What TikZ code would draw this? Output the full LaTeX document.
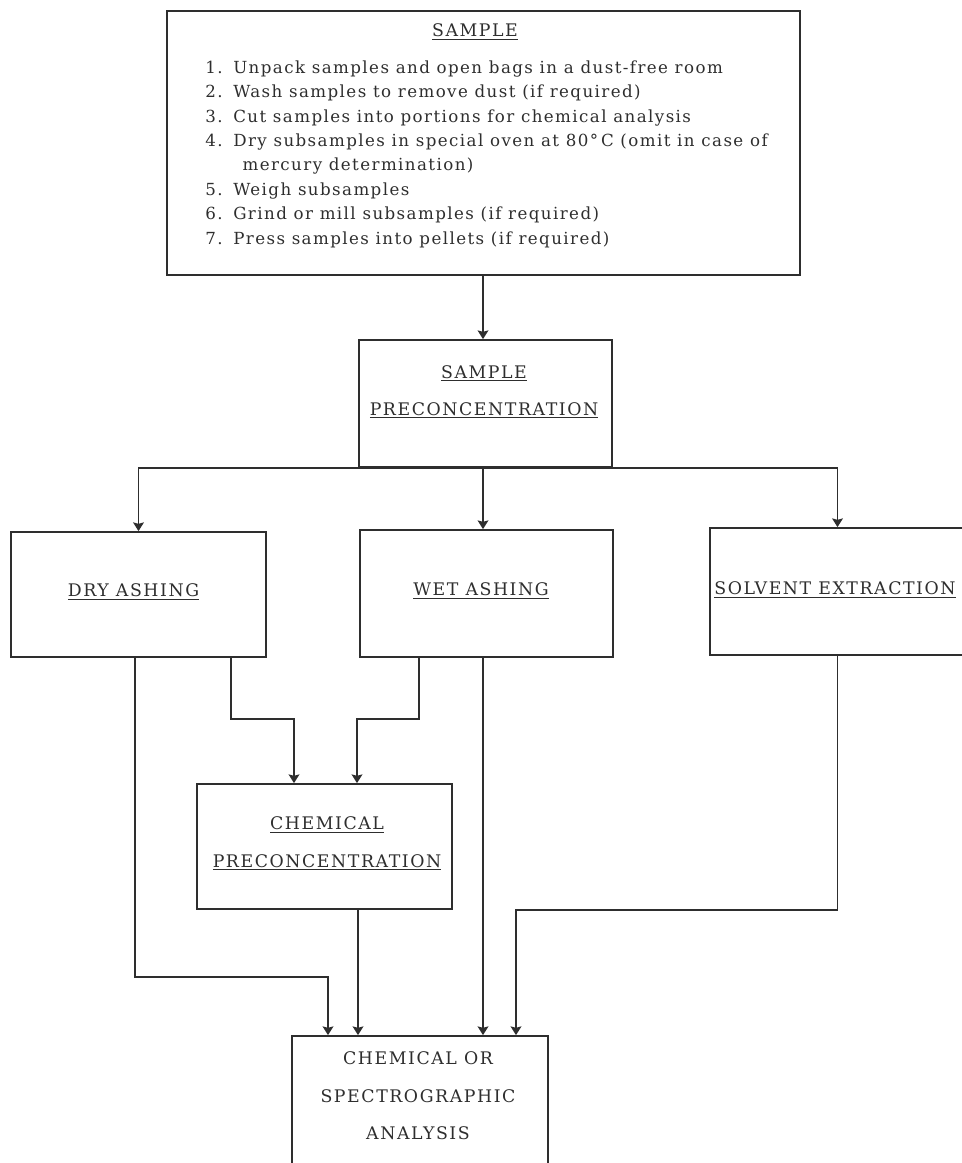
\documentclass[tikz,border=0pt]{standalone}
\usepackage{fontspec}
\setmainfont{DejaVu Serif}
\newfontfamily\capsfont[LetterSpace=9]{DejaVu Serif}
\newfontfamily\listfont[LetterSpace=8.5]{DejaVu Serif}
\usetikzlibrary{arrows.meta}
\definecolor{ink}{HTML}{2E2E2E}

\begin{document}
\begin{tikzpicture}[x=0.75pt,y=-0.75pt,
    box/.style={draw=ink,line width=1.3pt,inner sep=0pt},
    caption/.style={text=ink,align=center,inner sep=0pt,font=\capsfont\fontsize{13}{28}\selectfont},
    flow/.style={draw=ink,line width=1.3pt,-{Stealth[length=6.5pt,width=8pt,inset=1pt]}}]
    \useasboundingbox (0,0) rectangle (962,1163);
    \clip (0,0) rectangle (962,1163);

    % boxes
    \node[box,minimum width=474.75pt,minimum height=198pt] (sample) at (483.5,143) {};
    \node[box,minimum width=189.75pt,minimum height=95.25pt] (prec) at (485.5,403.5) {};
    \node[box,minimum width=191.25pt,minimum height=93.75pt] (dry) at (138.5,594.5) {};
    \node[box,minimum width=189.75pt,minimum height=95.25pt] (wet) at (486.5,593.5) {};
    \node[box,minimum width=191.25pt,minimum height=95.25pt] (solv) at (837.5,591.5) {};
    \node[box,minimum width=191.25pt,minimum height=93.75pt] (chem) at (324.5,846.5) {};
    \node[box,minimum width=192pt,minimum height=99pt] (final) at (420,1102) {};

    % texts
    \node[caption] (sampletitle) at (475,32) {\underline{SAMPLE}};
    \node[anchor=north west,inner sep=0pt,text=ink,font=\listfont\fontsize{12.5}{18.3}\selectfont] (steps) at (205,56) {%
      \begin{tabular}{@{}r@{\hspace{8pt}}l@{}}
        1. & Unpack samples and open bags in a dust-free room\\
        2. & Wash samples to remove dust (if required)\\
        3. & Cut samples into portions for chemical analysis\\
        4. & Dry subsamples in special oven at 80°\,C (omit in case of\\
           & \hspace{7pt}mercury determination)\\
        5. & Weigh subsamples\\
        6. & Grind or mill subsamples (if required)\\
        7. & Press samples into pellets (if required)
      \end{tabular}};
    \node[caption] (prectext) at (484,392) {\underline{SAMPLE}\\\underline{PRECONCENTRATION}};
    \node[caption] (drytext) at (133.5,592) {\underline{DRY ASHING}};
    \node[caption] (wettext) at (481,591) {\underline{WET ASHING}};
    \node[caption] (solvtext) at (835,590) {\underline{SOLVENT EXTRACTION}};
    \node[caption] (chemtext) at (327,843.5) {\underline{CHEMICAL}\\\underline{PRECONCENTRATION}};
    \node[caption] (finaltext) at (418,1096) {CHEMICAL OR\\SPECTROGRAPHIC\\ANALYSIS};

    % connectors
    \draw[flow] (sample.south -| 483,0) -- (prec.north -| 483,0);
    \draw[flow] (prec.south) -| (dry.north);
    \draw[flow] (prec.south) -| (solv.north);
    \draw[flow] (prec.south -| 483,0) -- (wet.north -| 483,0);

    \draw[flow] (dry.south -| 135,0) |- (328,977) -- (final.north -| 328,0);
    \draw[flow] (dry.south -| 231,0) |- (294,719) -- (chem.north -| 294,0);
    \draw[flow] (wet.south -| 419,0) |- (357,719) -- (chem.north -| 357,0);
    \draw[flow] (chem.south -| 358,0) -- (final.north -| 358,0);
    \draw[flow] (wet.south -| 483,0) -- (final.north -| 483,0);
    \draw[flow] (solv.south) |- (516,910) -- (final.north -| 516,0);
\end{tikzpicture}
\end{document}
